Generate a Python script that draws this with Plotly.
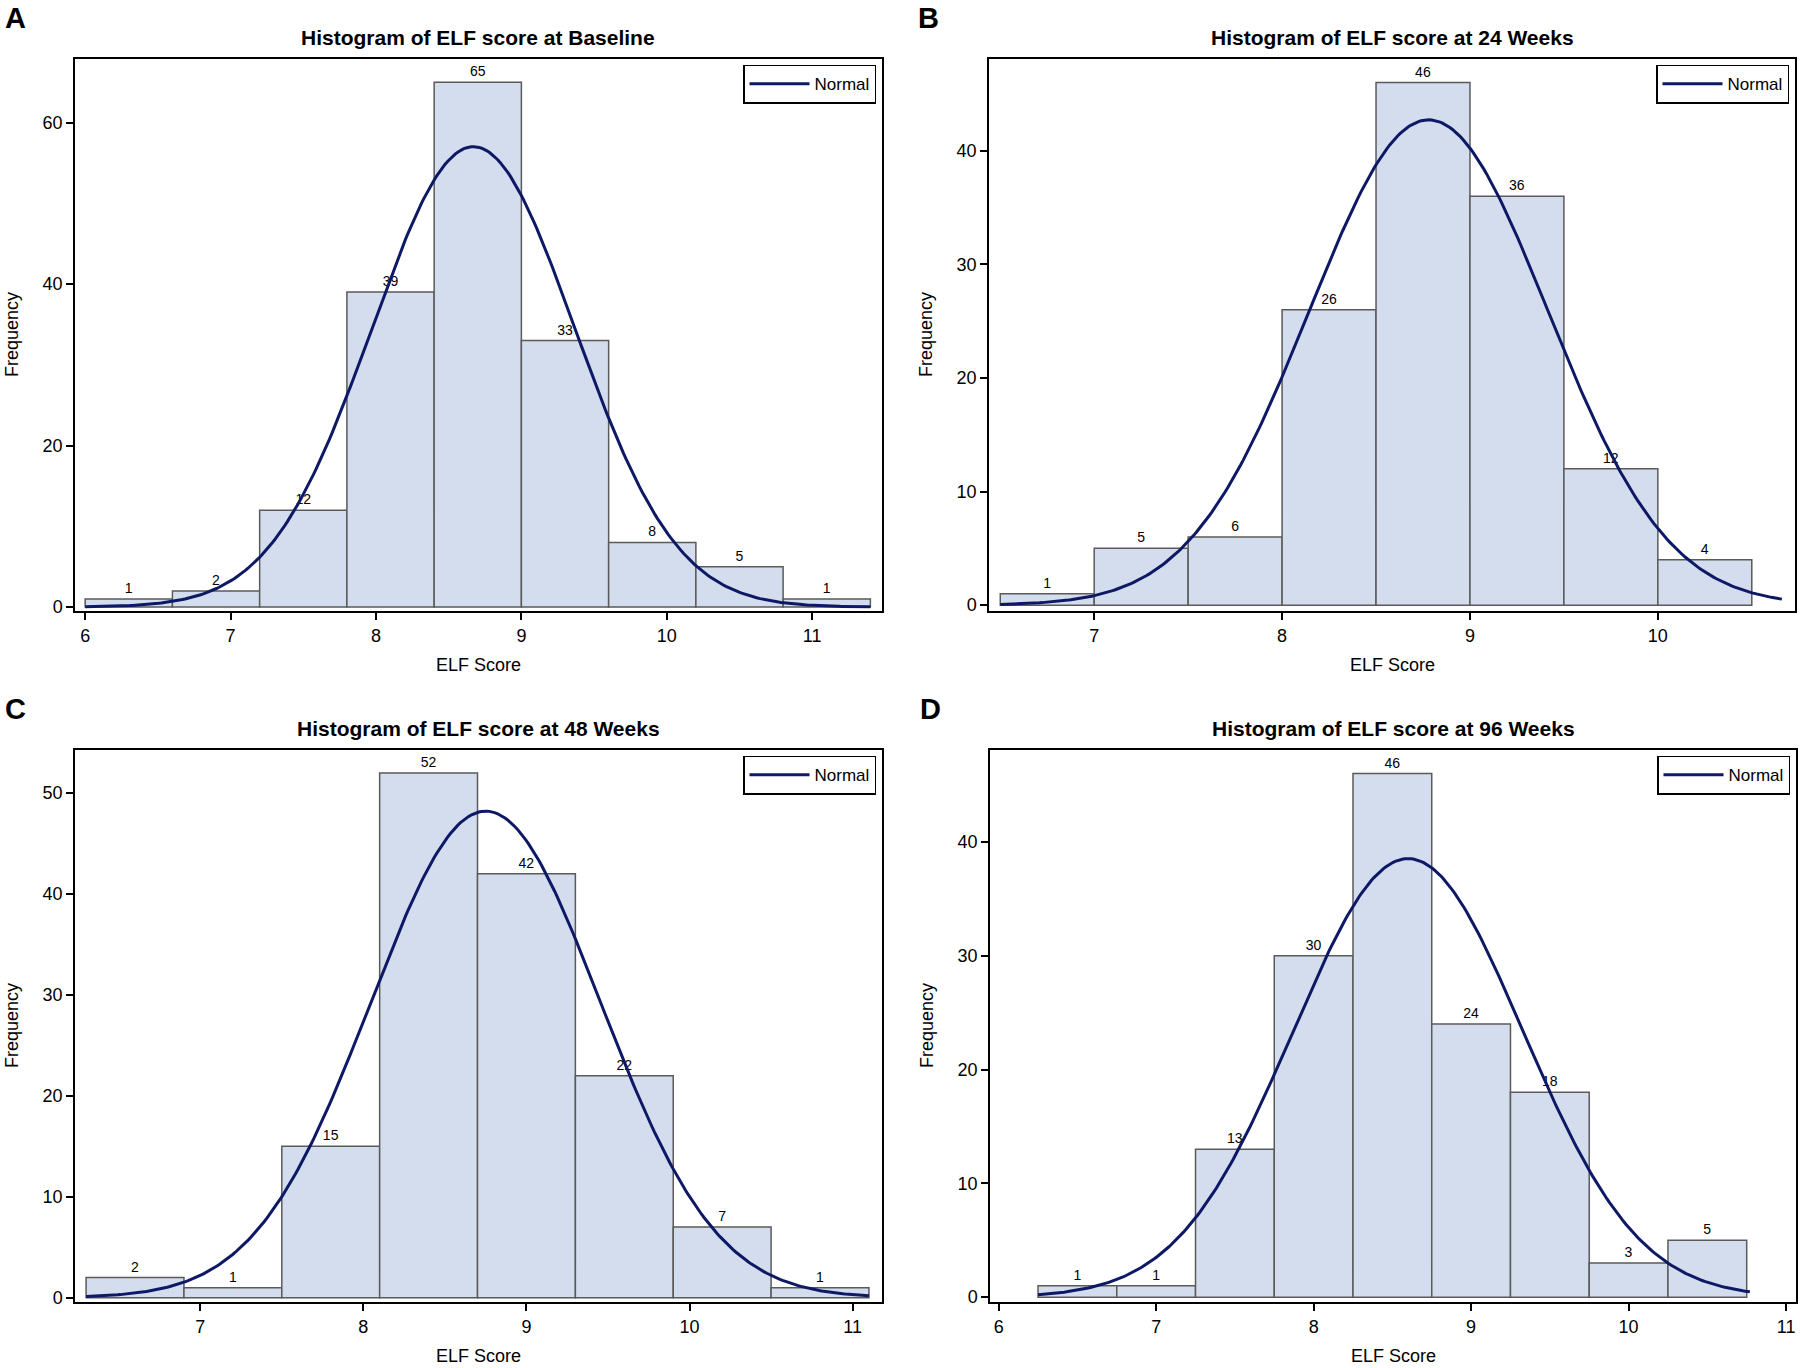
import numpy as np
import plotly.graph_objects as go

# ---------------- data ----------------
titles = ["Histogram of ELF score at Baseline", "Histogram of ELF score at 24 Weeks",
          "Histogram of ELF score at 48 Weeks", "Histogram of ELF score at 96 Weeks"]
panel_letters = ["A", "B", "C", "D"]

# bin left edges and counts
a_edges = [6.0, 6.6, 7.2, 7.8, 8.4, 9.0, 9.6, 10.2, 10.8]
a_counts = [1, 2, 12, 39, 65, 33, 8, 5, 1]
a_width = 0.6

b_edges = [6.5, 7.0, 7.5, 8.0, 8.5, 9.0, 9.5, 10.0]
b_counts = [1, 5, 6, 26, 46, 36, 12, 4]
b_width = 0.5

c_edges = [6.3, 6.9, 7.5, 8.1, 8.7, 9.3, 9.9, 10.5]
c_counts = [2, 1, 15, 52, 42, 22, 7, 1]
c_width = 0.6

d_edges = [6.25, 6.75, 7.25, 7.75, 8.25, 8.75, 9.25, 9.75, 10.25]
d_counts = [1, 1, 13, 30, 46, 24, 18, 3, 5]
d_width = 0.5

# fitted normal parameters (mean, sd) and curve extent
normal_mu = [8.67, 8.78, 8.75, 8.60]
normal_sd = [0.697, 0.635, 0.705, 0.730]
curve_range = [(6.0, 11.4), (6.5, 10.66), (6.3, 11.1), (6.25, 10.77)]

# axis ranges and ticks
x_ranges = [(5.93, 11.48), (6.44, 10.73), (6.232, 11.18), (5.945, 11.063)]
y_ranges = [(-0.53, 67.9), (-0.54, 48.1), (-0.45, 54.3), (-0.45, 48.1)]
x_ticks = [[6, 7, 8, 9, 10, 11], [7, 8, 9, 10], [7, 8, 9, 10, 11], [6, 7, 8, 9, 10, 11]]
y_ticks = [[0, 20, 40, 60], [0, 10, 20, 30, 40], [0, 10, 20, 30, 40, 50], [0, 10, 20, 30, 40]]

edges_all = [a_edges, b_edges, c_edges, d_edges]
counts_all = [a_counts, b_counts, c_counts, d_counts]
widths_all = [a_width, b_width, c_width, d_width]

# ---------------- layout geometry (pixels) ----------------
W, H = 1800, 1368
FONT = "Liberation Sans, Arial, sans-serif"
BAR_FILL = "#D4DDED"
BAR_LINE = "#5A5A5A"
CURVE = "#0E1966"

frames = [  # (left, right, top, bottom) in pixels
    (75, 882, 59, 614),
    (989, 1795, 59, 614),
    (75, 882, 753, 1308),
    (990, 1796, 753, 1308),
]

def px_x(x):
    return x / W

def px_y(y):
    return 1 - y / H

fig = go.Figure()
layout = dict(
    width=W, height=H,
    margin=dict(l=0, r=0, t=0, b=0),
    paper_bgcolor="white", plot_bgcolor="white",
    font=dict(family=FONT, color="black"),
    showlegend=True,
    annotations=[],
)

for i in range(4):
    edges = edges_all[i]
    counts = counts_all[i]
    w = widths_all[i]
    centers = [e + w / 2 for e in edges]
    sfx = "" if i == 0 else str(i + 1)
    xa, ya = "x" + sfx, "y" + sfx
    leg = "legend" if i == 0 else "legend" + str(i + 1)

    fig.add_trace(go.Bar(
        x=centers, y=counts, width=[w] * len(counts),
        marker=dict(color=BAR_FILL, line=dict(color=BAR_LINE, width=1.5)),
        text=[str(c) for c in counts], textposition="outside",
        textfont=dict(size=14, color="black", family=FONT),
        cliponaxis=False, showlegend=False, hoverinfo="x+y",
        xaxis=xa, yaxis=ya,
    ))

    n = sum(counts)
    mu, sd = normal_mu[i], normal_sd[i]
    xs = np.linspace(curve_range[i][0], curve_range[i][1], 300)
    ys = n * w / (sd * np.sqrt(2 * np.pi)) * np.exp(-0.5 * ((xs - mu) / sd) ** 2)
    fig.add_trace(go.Scatter(
        x=xs, y=ys, mode="lines", name="Normal",
        line=dict(color=CURVE, width=3),
        xaxis=xa, yaxis=ya, legend=leg, showlegend=True,
    ))

    L, R, T, B = frames[i]
    axis_common = dict(
        showline=True, mirror=True, linecolor="black", linewidth=1.5,
        ticks="outside", ticklen=7, tickwidth=1.5, tickcolor="black",
        showgrid=False, zeroline=False,
        tickfont=dict(size=18, family=FONT, color="black"),
    )
    layout["xaxis" + sfx] = dict(
        axis_common, domain=[px_x(L), px_x(R)], range=list(x_ranges[i]),
        tickvals=x_ticks[i], anchor=ya,
    )
    layout["yaxis" + sfx] = dict(
        axis_common, domain=[px_y(B), px_y(T)], range=list(y_ranges[i]),
        tickvals=y_ticks[i], anchor=xa,
    )
    layout[leg] = dict(
        x=px_x(R - 6), y=px_y(T + 6), xanchor="right", yanchor="top",
        bordercolor="black", borderwidth=1.5, bgcolor="white",
        font=dict(size=17, family=FONT, color="black"),
        itemwidth=60, tracegroupgap=0,
    )

    cx = (L + R) / 2
    # title
    layout["annotations"].append(dict(
        text="<b>" + titles[i] + "</b>", x=px_x(cx), y=px_y(T - 21),
        xref="paper", yref="paper", xanchor="center", yanchor="middle",
        showarrow=False, font=dict(size=21, family=FONT, color="black"),
    ))
    # x-axis title
    layout["annotations"].append(dict(
        text="ELF Score", x=px_x(cx), y=px_y(B + 54),
        xref="paper", yref="paper", xanchor="center", yanchor="middle",
        showarrow=False, font=dict(size=18, family=FONT, color="black"),
    ))
    # y-axis title
    layout["annotations"].append(dict(
        text="Frequency", x=px_x(L - 63), y=px_y((T + B) / 2),
        xref="paper", yref="paper", xanchor="center", yanchor="middle",
        textangle=-90, showarrow=False, font=dict(size=18, family=FONT, color="black"),
    ))
    # panel letter
    layout["annotations"].append(dict(
        text="<b>" + panel_letters[i] + "</b>", x=px_x(L - 60),
        y=px_y(T - 41),
        xref="paper", yref="paper", xanchor="center", yanchor="middle",
        showarrow=False, font=dict(size=29, family=FONT, color="black"),
    ))

fig.update_layout(**layout)
fig.write_html(
    "out.html",
    config={"displayModeBar": False},
    post_script=(
        "document.documentElement.style.margin='0';"
        "document.documentElement.style.overflow='hidden';"
        "document.body.style.margin='0';"
        "document.body.style.padding='0';"
        "document.body.style.overflow='hidden';"
    ),
)
